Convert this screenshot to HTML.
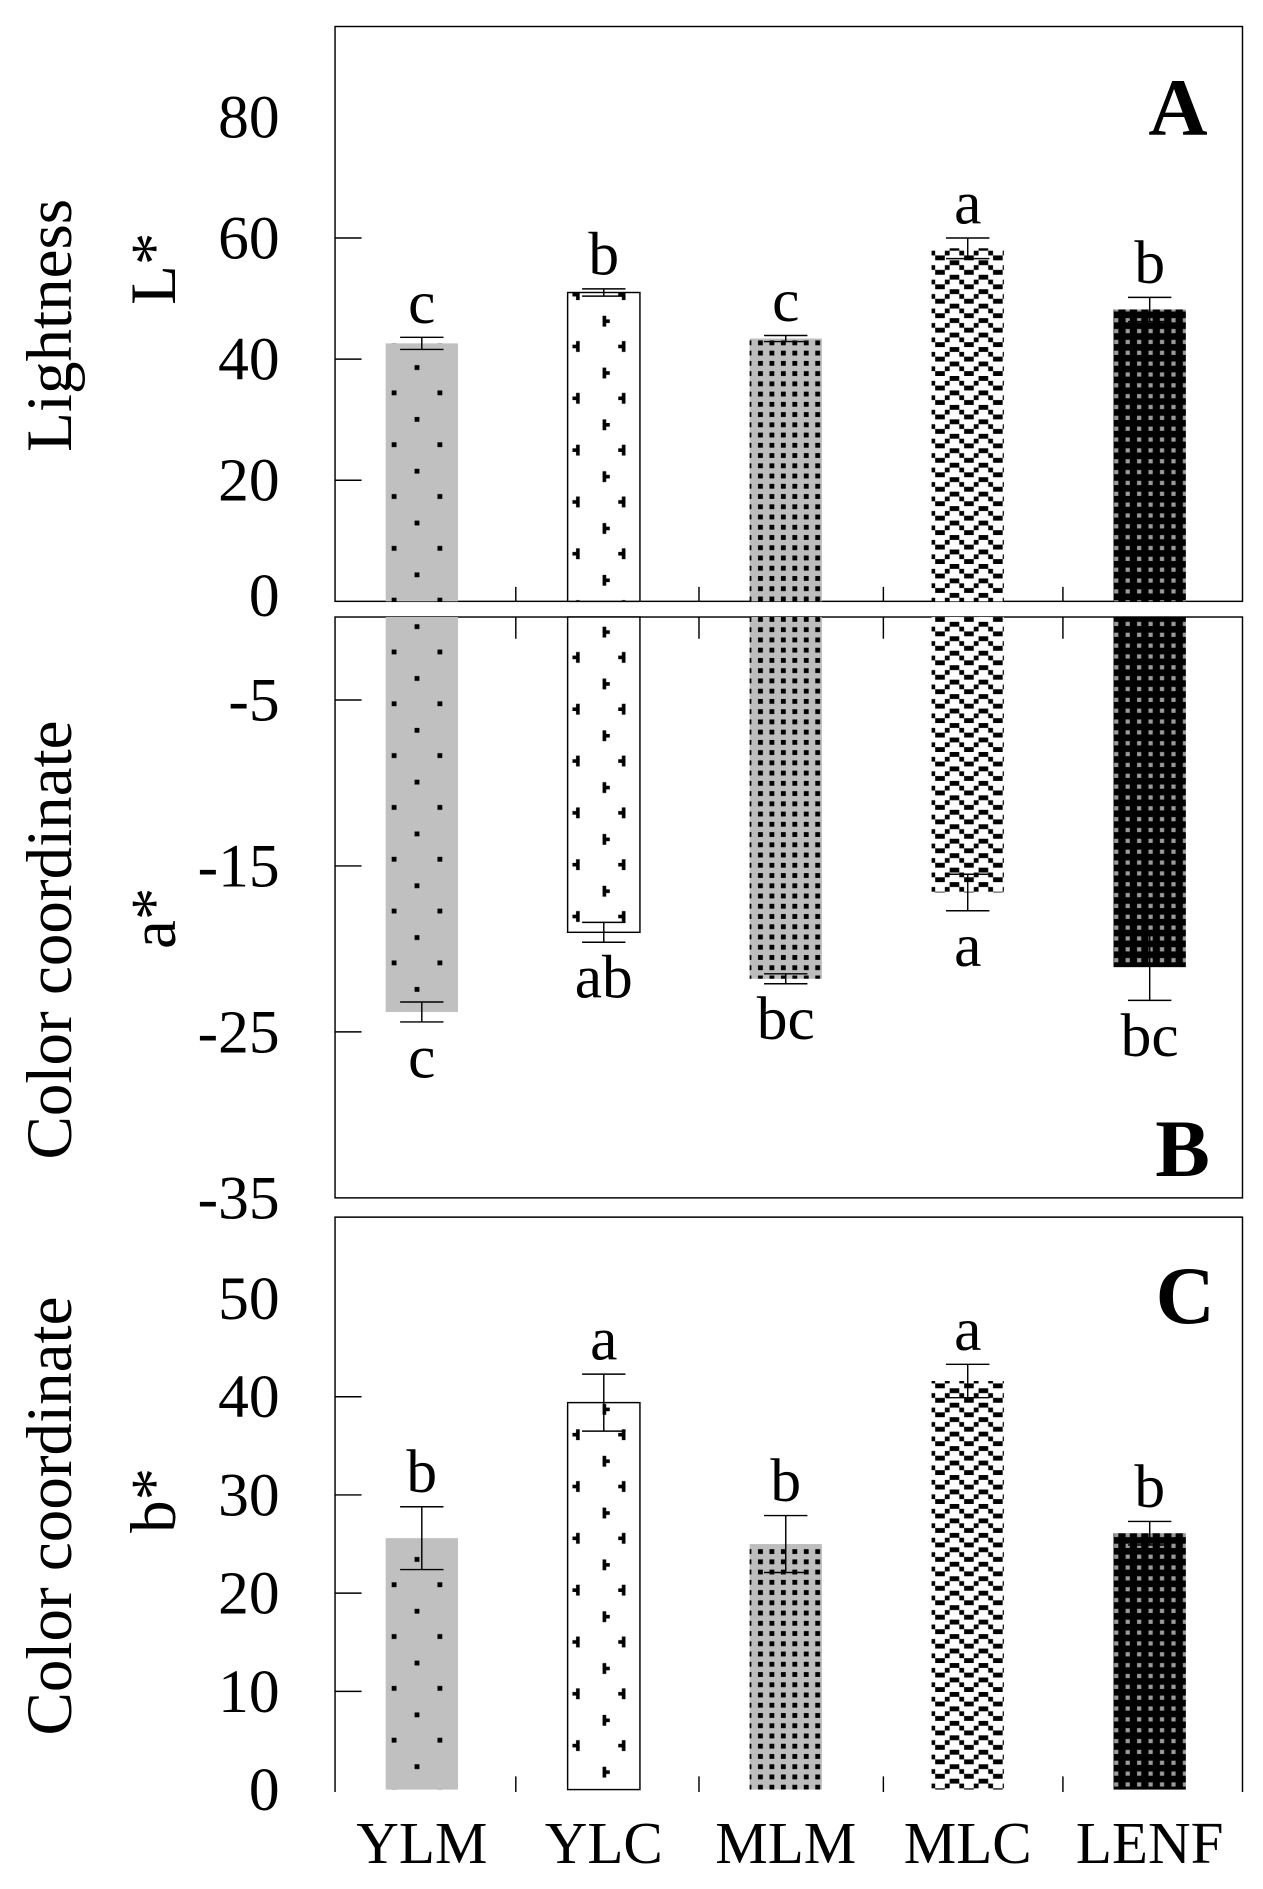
<!DOCTYPE html>
<html><head><meta charset="utf-8">
<style>html,body{margin:0;padding:0;background:#fff}svg{display:block}text{font-family:"Liberation Serif",serif;fill:#000}</style>
</head><body>
<svg id="chart" width="1263" height="1889" viewBox="0 0 1048 1567.5" xmlns="http://www.w3.org/2000/svg">
<defs>
<pattern id="pYLM" patternUnits="userSpaceOnUse" width="38" height="43"><rect width="38" height="43" fill="#c0c0c0"/><rect x="2" y="2" width="4" height="4" fill="#000"/><rect x="21" y="23" width="4" height="4" fill="#000"/></pattern>
<pattern id="pYLC" patternUnits="userSpaceOnUse" width="38" height="43"><rect width="38" height="43" fill="#fff"/><path d="M6 4h3v3h3v3h-3v3h-3zM25 25h-3v3h-3v3h3v3h3z" fill="#000"/></pattern>
<pattern id="pMLM" patternUnits="userSpaceOnUse" width="9.5" height="8.5"><rect width="9.5" height="8.5" fill="#bdbdbd"/><rect x="2" y="2" width="4" height="4" fill="#000"/></pattern>
<pattern id="pMLC" patternUnits="userSpaceOnUse" width="24" height="24"><rect width="24" height="24" fill="#fff"/><path d="M0 0h4v4h4v4h4v4h-4v-4h-4v-4h-4zM12 8h4v-4h4v-4h4v4h-4v4h-4v4h-4zM0 12h4v4h4v4h4v4h-4v-4h-4v-4h-4zM12 20h4v-4h4v-4h4v4h-4v4h-4v4h-4z" fill="#000"/></pattern>
<pattern id="pLENF" patternUnits="userSpaceOnUse" width="9.5" height="9"><rect width="9.5" height="9" fill="#000"/><rect x="3" y="3" width="3.5" height="3.5" fill="#9a9a9a"/></pattern>
</defs>
<g id="plot"></g>
</svg>
<script>
const categories = ["YLM","YLC","MLM","MLC","LENF"];
const valuesL = [42.6, 51.0, 43.4, 58.3, 48.2];
const errL = [1.0, 0.6, 0.5, 1.7, 2.0];
const lettersL = ["c","b","c","a","b"];
const valuesA = [-23.8, -19.0, -21.8, -16.6, -21.1];
const errA = [0.6, 0.6, 0.3, 1.1, 2.0];
const lettersA = ["c","ab","bc","a","bc"];
const valuesB = [25.6, 39.4, 25.0, 41.6, 26.1];
const errB = [3.2, 2.9, 2.9, 1.7, 1.2];
const lettersB = ["b","a","b","a","b"];
const ticksL = [0,20,40,60,80];
const ticksA = [0,-5,-15,-25,-35];
const ticksB = [0,10,20,30,40,50];

const NS="http://www.w3.org/2000/svg";
const g=document.getElementById('plot');
function el(tag,attrs,parent){const e=document.createElementNS(NS,tag);for(const k in attrs)e.setAttribute(k,attrs[k]);(parent||g).appendChild(e);return e;}
const L=278,R=1031;
const xc=i=>350+i*151;
const bw=60;
const yA=v=>499-v*5.025;
const yBn=v=>512-v*13.77;
const yC=v=>1485-v*8.15;
const pats=["pYLM","pYLC","pMLM","pMLC","pLENF"];

let f;
f=el('rect',{x:L,y:22,width:R-L,height:477,fill:'none',stroke:'#000','stroke-width':1.2});

f=el('rect',{x:L,y:512,width:R-L,height:482,fill:'none',stroke:'#000','stroke-width':1.2});

f=el('path',{d:`M${L} 1487V1010H${R}V1487`,fill:'none',stroke:'#000','stroke-width':1.2});


function text(x,y,s,size,anchor,name,extra){const t=el('text',Object.assign({x:x,y:y,'font-size':size,'text-anchor':anchor||'middle'},extra||{}));t.textContent=s;return t;}

function panel(vals,errs,letters,ys,ticks,key,isNeg){
  ticks.forEach(v=>{const y=ys(v);
    if(v!==0&&!(key==='b'&&v===-35)&&!(key==='a'&&v===80)&&!(key==='c'&&v===50)){const t=el('line',{x1:L,x2:L+22,y1:y,y2:y,stroke:'#000','stroke-width':1.2});}
    let yy=y+17; if(key==='a'&&v===0) yy=y+12; if(key==='b'&&v===0) return;
    text(232,yy,String(v),51,'end','y-tick-label-'+key);
  });
  vals.forEach((v,i)=>{
    const x=xc(i), y0=ys(0), y1=ys(v);
    const b=el('rect',{x:x-bw/2,y:Math.min(y0,y1),width:bw,height:Math.abs(y1-y0),fill:'url(#'+pats[i]+')',stroke:i===1?'#000':'none','stroke-width':1.2});
    
    
    const e1=ys(v+errs[i]), e2=ys(v-errs[i]);
    const eb=el('path',{d:`M${x} ${e1}V${e2}M${x-18} ${e1}H${x+18}M${x-18} ${e2}H${x+18}`,stroke:'#000','stroke-width':1.2,fill:'none'});
    
    
    if(isNeg){ text(x,Math.max(e1,e2)+46,letters[i],51,'middle','sig-letter-'+key); }
    else { text(x,Math.min(e1,e2)-12,letters[i],51,'middle','sig-letter-'+key); }
  });
}
panel(valuesL,errL,lettersL,yA,ticksL,'a',false);
panel(valuesA,errA,lettersA,yBn,ticksA,'b',true);
panel(valuesB,errB,lettersB,yC,ticksB,'c',false);

[428,580,733,882].forEach(x=>{
  let t=el('path',{d:`M${x} 487V499M${x} 512V530M${x} 1474V1487`,stroke:'#000','stroke-width':1.2});
  
});
categories.forEach((c,i)=>text(xc(i),1546,c,49,'middle','x-label-'+c.toLowerCase()));

text(1002,112,'A',68,'end','panel-label-a',{'font-weight':'bold'});
text(1004,976,'B',68,'end','panel-label-b',{'font-weight':'bold'});
text(1008,1098,'C',68,'end','panel-label-c',{'font-weight':'bold'});

text(0,0,'Lightness',54,'middle','y-axis-title-a',{transform:'translate(59 270) rotate(-90)'});
text(0,0,'L*',54,'middle','y-axis-unit-a',{transform:'translate(145 223) rotate(-90)'});
text(0,0,'Color coordinate',54,'middle','y-axis-title-b',{transform:'translate(59 780) rotate(-90)'});
text(0,0,'a*',54,'middle','y-axis-unit-b',{transform:'translate(145 762) rotate(-90)'});
text(0,0,'Color coordinate',54,'middle','y-axis-title-c',{transform:'translate(59 1258) rotate(-90)'});
text(0,0,'b*',54,'middle','y-axis-unit-c',{transform:'translate(145 1245) rotate(-90)'});
</script>
</body></html>
